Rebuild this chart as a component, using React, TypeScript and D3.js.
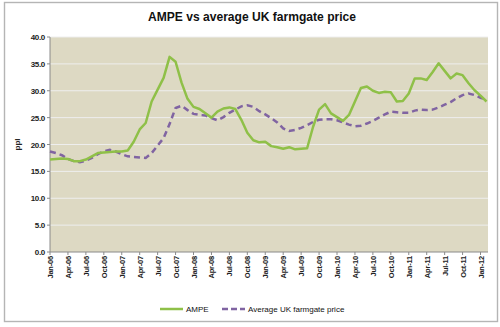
import React from "react";
import * as d3 from "d3";

const startYear = 2006;
const monthNames = ["Jan", "Apr", "Jul", "Oct"];
const yTicks = [0, 5, 10, 15, 20, 25, 30, 35, 40];

const ampe = [
  17.2, 17.3, 17.4, 17.3, 16.9, 16.9, 17.2, 17.8, 18.4, 18.5, 18.6, 18.7,
  18.7, 18.9, 20.5, 22.8, 24.0, 28.0, 30.2, 32.4, 36.3, 35.4, 31.5, 28.5,
  27.0, 26.6, 25.8, 25.0, 26.1, 26.7, 26.9, 26.6, 24.6, 22.2, 20.8, 20.4,
  20.5, 19.7, 19.5, 19.2, 19.5, 19.1, 19.2, 19.3, 23.3, 26.5, 27.5, 25.8,
  25.1, 24.4, 25.5, 28.0, 30.5, 30.8, 30.0, 29.6, 29.8, 29.7, 28.0, 28.1,
  29.5, 32.3, 32.3, 32.0, 33.5, 35.1, 33.7, 32.3, 33.2, 32.9, 31.4, 30.1,
  29.1, 28.0,
];

const farmgate = [
  18.7, 18.4, 18.0, 17.3, 16.9, 16.7, 17.0, 17.5, 18.2, 18.7, 19.0, 18.7,
  18.2, 17.8, 17.7, 17.6, 17.5, 18.4, 19.8, 21.2, 23.8, 26.8, 27.2, 26.4,
  25.7, 25.5, 25.4, 24.9, 24.5, 25.1, 25.9, 26.5, 27.1, 27.3, 27.0, 26.2,
  25.6, 24.9, 24.1, 23.0, 22.5, 22.7, 23.1, 23.6, 24.2, 24.6, 24.7, 24.7,
  24.5, 24.1, 23.7, 23.4, 23.5, 23.9, 24.4, 25.0, 25.6, 26.1, 26.0, 25.9,
  25.9, 26.3, 26.5, 26.4, 26.5, 26.9, 27.4, 27.9, 28.6, 29.2, 29.5, 29.2,
  28.7, 28.3,
];

const seriesNames = ["AMPE", "Average UK farmgate price"];
const title = "AMPE vs average UK farmgate price";
const yTitle = "ppl";

const tickMonths = d3.range(0, 73, 3);
const tickLabel = (m: number) =>
  `${monthNames[(m % 12) / 3]}-${String((startYear + Math.floor(m / 12)) % 100).padStart(2, "0")}`;

export default function App() {
  const W = 500, H = 327;
  const plot = { left: 50, right: 488, top: 37, bottom: 252 };
  const x = d3.scaleLinear().domain([0, 73]).range([50, 486.5]);
  const y = d3.scaleLinear().domain([0, 40]).range([plot.bottom, plot.top]);
  const line = d3
    .line<number>()
    .x((_, i) => x(i))
    .y((d) => y(d));
  const green = "#8fc048";
  const purple = "#8064a2";
  const font = "'Liberation Sans', Arial, sans-serif";

  return (
    <svg
      width={W}
      height={H}
      style={{ position: "absolute", left: 0, top: 0, background: "#fff" }}
      fontFamily={font}
    >
      <rect x={4.5} y={2.5} width={493} height={319} fill="#fff" stroke="#b5b5b5" strokeWidth={1.4} />
      <text x={252} y={21} textAnchor="middle" fontSize={13} fontWeight="bold" textLength={208} lengthAdjust="spacingAndGlyphs" fill="#111">
        {title}
      </text>
      <rect x={plot.left} y={plot.top} width={plot.right - plot.left} height={plot.bottom - plot.top} fill="#ddd9c3" />
      {yTicks.map((t) => (
        <g key={t}>
          {t > 0 && (
            <line x1={plot.left} x2={plot.right} y1={y(t)} y2={y(t)} stroke="#eeeeee" strokeWidth={1} />
          )}
          <line x1={plot.left - 3} x2={plot.left} y1={y(t)} y2={y(t)} stroke="#8a8a8a" />
          <text x={plot.left - 5} y={y(t) + 3} textAnchor="end" fontSize={8} fontWeight="bold" fill="#222" letterSpacing={-0.3}>
            {t.toFixed(1)}
          </text>
        </g>
      ))}
      <line x1={plot.left} x2={plot.left} y1={plot.top} y2={plot.bottom} stroke="#8a8a8a" />
      <line x1={plot.left} x2={plot.right} y1={plot.bottom} y2={plot.bottom} stroke="#8a8a8a" />
      {tickMonths.map((m) => (
        <g key={m}>
          <line x1={x(m)} x2={x(m)} y1={plot.bottom} y2={plot.bottom + 3} stroke="#8a8a8a" />
          <text
            transform={`translate(${x(m) + 3},${plot.bottom + 4}) rotate(-90)`}
            textAnchor="end"
            fontSize={7.5}
            fontWeight="bold"
            fill="#222"
            letterSpacing={-0.2}
          >
            {tickLabel(m)}
          </text>
        </g>
      ))}
      <text transform={`translate(20,${(plot.top + plot.bottom) / 2}) rotate(-90)`} textAnchor="middle" fontSize={8} fontWeight="bold" fill="#222">
        {yTitle}
      </text>
      <path d={line(farmgate) || ""} fill="none" stroke={purple} strokeWidth={2.5} strokeDasharray="6,4" />
      <path d={line(ampe) || ""} fill="none" stroke={green} strokeWidth={2.5} strokeLinejoin="round" />
      <g fontSize={8} fill="#111">
        <line x1={160} x2={183} y1={309} y2={309} stroke={green} strokeWidth={2.5} />
        <text x={186} y={312}>{seriesNames[0]}</text>
        <line x1={222} x2={245} y1={309} y2={309} stroke={purple} strokeWidth={2.5} strokeDasharray="6,3" />
        <text x={248} y={312}>{seriesNames[1]}</text>
      </g>
    </svg>
  );
}
